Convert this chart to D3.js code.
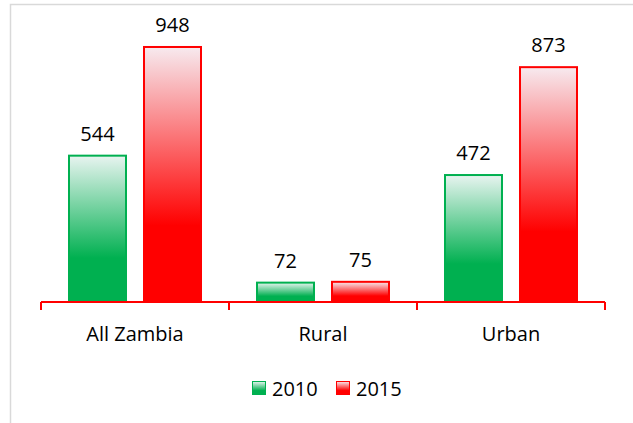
<!DOCTYPE html>
<html>
<head>
<meta charset="utf-8">
<script src="https://cdn.jsdelivr.net/npm/d3@7"></script>
<style>
  body { margin: 0; background: #fff; }
  svg { display: block; font-family: "Open Sans", "Noto Sans", sans-serif; }
</style>
</head>
<body>
<svg width="633" height="423"></svg>
<script>
const categories = ['All Zambia', 'Rural', 'Urban'];
const seriesNames = ['2010', '2015'];
const values2010 = [544, 72, 472];
const values2015 = [948, 75, 873];

const colors = { '2010': '#00b050', '2015': '#ff0000' };
const topTint = { '2010': '#e8f4f0', '2015': '#f7eaef' };

const data = categories.map((c, i) => ({
	cat: c,
	vals: [
		{ key: '2010', value: values2010[i] },
		{ key: '2015', value: values2015[i] }
	]
}));

const svg = d3.select('svg');

// chart frame (goes past the right / bottom edge)
svg.append('rect')
	.attr('x', 10.5).attr('y', 4.5)
	.attr('width', 640).attr('height', 440)
	.attr('fill', '#fff')
	.attr('stroke', '#d9d9d9')
	.attr('stroke-width', 1.5);

const defs = svg.append('defs');
seriesNames.forEach(s => {
	const g = defs.append('linearGradient')
		.attr('id', 'grad' + s)
		.attr('x1', 0).attr('y1', 0).attr('x2', 0).attr('y2', 1);
	g.append('stop').attr('offset', '0%').attr('stop-color', topTint[s]);
	g.append('stop').attr('offset', '70%').attr('stop-color', colors[s]);
	g.append('stop').attr('offset', '100%').attr('stop-color', colors[s]);
});

const x0 = d3.scaleBand()
	.domain(categories)
	.range([41, 605])
	.paddingInner(0)
	.paddingOuter(0);

const x1 = d3.scaleBand()
	.domain(seriesNames)
	.range([28, x0.bandwidth() - 28])
	.paddingInner(0.24)
	.paddingOuter(0);

const y = d3.scaleLinear()
	.domain([0, 1000])
	.range([302, 33]);

const groups = svg.append('g').selectAll('g')
	.data(data)
	.enter().append('g')
	.attr('transform', d => `translate(${x0(d.cat)},0)`);

groups.selectAll('rect')
	.data(d => d.vals)
	.enter().append('rect')
	.attr('x', d => x1(d.key))
	.attr('y', d => y(d.value))
	.attr('width', x1.bandwidth())
	.attr('height', d => y(0) - y(d.value))
	.attr('fill', d => `url(#grad${d.key})`)
	.attr('stroke', d => colors[d.key])
	.attr('stroke-width', 2);

groups.selectAll('text')
	.data(d => d.vals)
	.enter().append('text')
	.attr('x', d => x1(d.key) + x1.bandwidth() / 2)
	.attr('y', d => y(d.value) - 15)
	.attr('text-anchor', 'middle')
	.style('font-size', '20px')
	.attr('fill', '#000')
	.text(d => d.value);

// category labels
svg.append('g').selectAll('text')
	.data(categories)
	.enter().append('text')
	.attr('x', d => x0(d) + x0.bandwidth() / 2)
	.attr('y', 341)
	.attr('text-anchor', 'middle')
	.style('font-size', '20px')
	.attr('fill', '#000')
	.text(d => d);

svg.append('line')
	.attr('x1', x0.range()[0]).attr('x2', x0.range()[1])
	.attr('y1', y(0)).attr('y2', y(0))
	.attr('stroke', '#ff0000').attr('stroke-width', 2);

const tickXs = categories.map(c => x0(c)).concat([x0.range()[1]]);
svg.append('g').selectAll('line')
	.data(tickXs)
	.enter().append('line')
	.attr('x1', d => d).attr('x2', d => d)
	.attr('y1', y(0)).attr('y2', y(0) + 8)
	.attr('stroke', '#ff0000').attr('stroke-width', 2);

// legend
const legend = svg.append('g').attr('transform', 'translate(252,381)');
const items = legend.selectAll('g')
	.data(seriesNames)
	.enter().append('g')
	.attr('transform', (d, i) => `translate(${i * 84},0)`);
items.append('rect')
	.attr('x', 0.5).attr('y', 0.5)
	.attr('width', 13).attr('height', 13)
	.attr('fill', d => `url(#grad${d})`)
	.attr('stroke', d => colors[d]);
items.append('text')
	.attr('x', 20).attr('y', 14.5)
	.style('font-size', '20px')
	.attr('fill', '#000')
	.text(d => d);
</script>
</body>
</html>
